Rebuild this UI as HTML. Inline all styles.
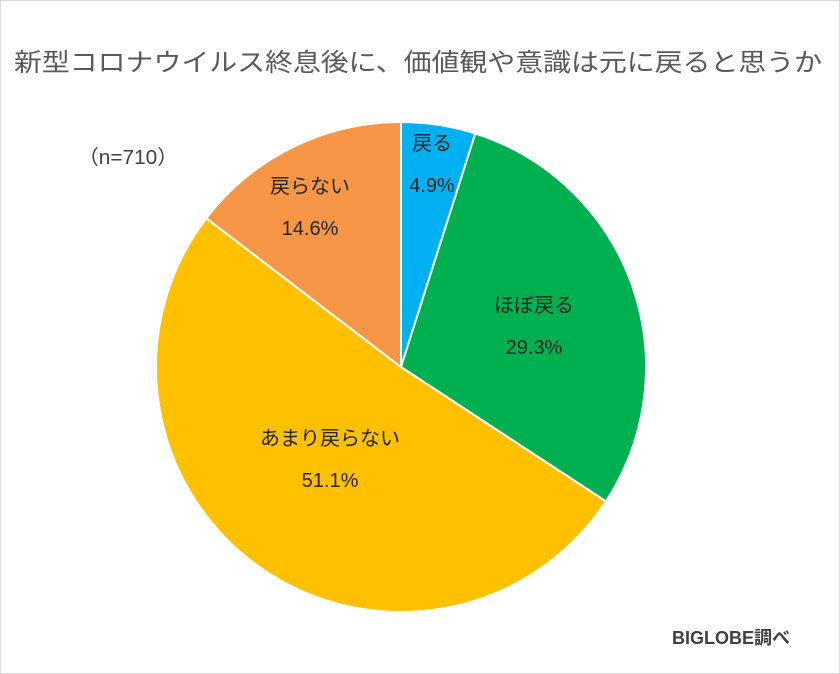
<!DOCTYPE html>
<html><head><meta charset="utf-8">
<style>
html,body{margin:0;padding:0;background:#fff;}
#wrap{position:relative;width:840px;height:674px;overflow:hidden;font-family:"Liberation Sans","Noto Sans CJK JP",sans-serif;}
#frame{position:absolute;left:0;top:0;width:838px;height:672px;border:1px solid #d9d9d9;}
</style></head>
<body>
<div id="wrap">
<div id="frame"></div>
<svg id="svg" width="840" height="674" style="position:absolute;left:0;top:0">
<text x="14" y="71" font-size="25" fill="#595959" textLength="808" lengthAdjust="spacingAndGlyphs">新型コロナウイルス終息後に、価値観や意識は元に戻ると思うか</text>
<text x="78" y="164" font-size="20" fill="#404040" textLength="100" lengthAdjust="spacingAndGlyphs">（n=710）</text>
<text x="672" y="644" font-size="18" font-weight="bold" fill="#404040" textLength="118" lengthAdjust="spacingAndGlyphs">BIGLOBE調べ</text>
<g id="pie"></g>
<g id="labels"></g>
</svg>
</div>
<script>
const categories = ["戻る","ほぼ戻る","あまり戻らない","戻らない"];
const values = [4.9, 29.3, 51.1, 14.6];
const colors = ["#00B0F0","#00B050","#FFC000","#F79646"];
const labelPos = [[432,150],[534,312],[330,445],[310,193]];
const cx=401, cy=367, r=245;
const ns="http://www.w3.org/2000/svg";
const pie=document.getElementById('pie'), lab=document.getElementById('labels');
const total=values.reduce((a,b)=>a+b,0);
let a0=-Math.PI/2;
values.forEach((v,i)=>{
  const a1=a0+v/total*2*Math.PI;
  const x0=cx+r*Math.cos(a0), y0=cy+r*Math.sin(a0);
  const x1=cx+r*Math.cos(a1), y1=cy+r*Math.sin(a1);
  const large=(a1-a0)>Math.PI?1:0;
  const p=document.createElementNS(ns,'path');
  p.setAttribute('d',`M${cx},${cy} L${x0},${y0} A${r},${r} 0 ${large} 1 ${x1},${y1} Z`);
  p.setAttribute('fill',colors[i]);
  p.setAttribute('stroke','#fff');
  p.setAttribute('stroke-width','2');
  
  
  pie.appendChild(p);
  const [lx,ly]=labelPos[i];
  const t1=document.createElementNS(ns,'text');
  t1.setAttribute('x',lx);t1.setAttribute('y',ly);t1.setAttribute('text-anchor','middle');
  t1.setAttribute('font-size','20');t1.setAttribute('fill','#262626');
  t1.textContent=categories[i];
  
  
  lab.appendChild(t1);
  const t2=document.createElementNS(ns,'text');
  t2.setAttribute('x',lx);t2.setAttribute('y',ly+42);t2.setAttribute('text-anchor','middle');
  t2.setAttribute('font-size','20');t2.setAttribute('fill','#262626');
  t2.textContent=v.toFixed(1)+'%';
  
  
  lab.appendChild(t2);
  a0=a1;
});
</script>
</body></html>
